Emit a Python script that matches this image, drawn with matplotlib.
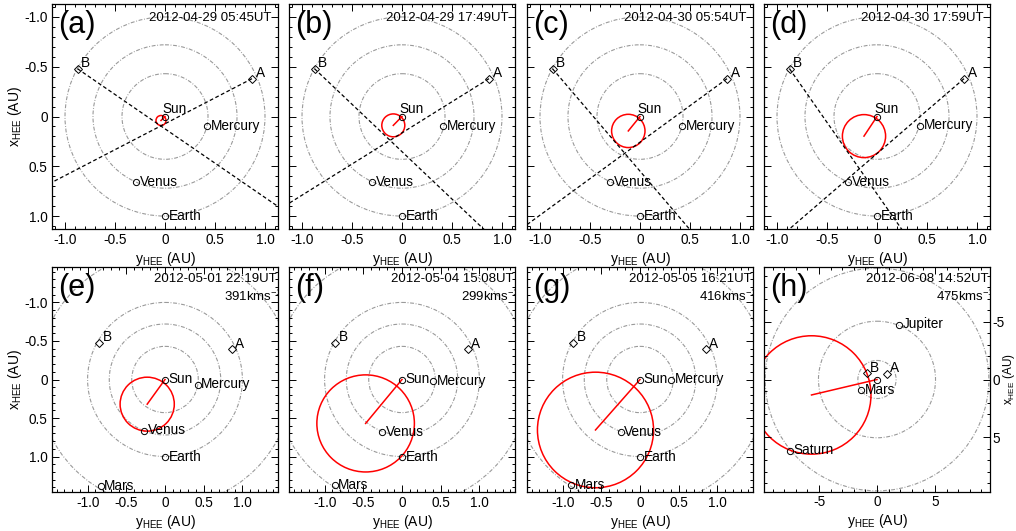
import numpy as np
import matplotlib.pyplot as plt
from matplotlib.patches import Circle
from matplotlib.ticker import MultipleLocator, FuncFormatter

plt.rcParams['font.family'] = ['Liberation Sans', 'DejaVu Sans']
plt.rcParams['mathtext.fontset'] = 'custom'
plt.rcParams['mathtext.rm'] = 'Liberation Sans'
plt.rcParams['mathtext.it'] = 'Liberation Sans'

# ---- data (y_HEE, x_HEE in AU) ----
tags = ['(a)', '(b)', '(c)', '(d)', '(e)', '(f)', '(g)', '(h)']
times = ['2012-04-29 05:45UT', '2012-04-29 17:49UT', '2012-04-30 05:54UT',
         '2012-04-30 17:59UT', '2012-05-01 22:19UT', '2012-05-04 15:08UT',
         '2012-05-05 16:21UT', '2012-06-08 14:52UT']
speeds = [None, None, None, None, '391', '299', '416', '475']
half_range = [1.13, 1.13, 1.13, 1.13, 1.46, 1.46, 1.46, 9.75]

orbits = [[0.43, 0.72, 1.0], [0.43, 0.72, 1.0], [0.43, 0.72, 1.0], [0.43, 0.72, 1.0],
          [0.43, 0.72, 1.0, 1.65], [0.43, 0.72, 1.0, 1.65], [0.43, 0.72, 1.0, 1.65],
          [1.65, 5.05, 9.65]]

mercury_y = [0.42, 0.41, 0.42, 0.43, 0.42, 0.405, 0.40, None]
mercury_x = [0.10, 0.10, 0.10, 0.095, 0.065, 0.025, 0.0, None]
venus_y = [-0.29, -0.30, -0.30, -0.29, -0.27, -0.255, -0.25, None]
venus_x = [0.66, 0.66, 0.66, 0.66, 0.665, 0.685, 0.685, None]
earth_y = [0.0, 0.0, 0.0, 0.0, 0.0, 0.0, 0.0, None]
earth_x = [1.0, 1.0, 1.0, 1.0, 1.01, 1.01, 1.01, None]
mars_y = [None, None, None, None, -0.83, -0.87, -0.89, -1.36]
mars_x = [None, None, None, None, 1.385, 1.375, 1.375, 0.93]
jupiter_y = [None] * 7 + [1.9]
jupiter_x = [None] * 7 + [-4.73]
saturn_y = [None] * 7 + [-7.48]
saturn_x = [None] * 7 + [6.16]

# STEREO A / B
sta_y = [0.87, 0.87, 0.87, 0.87, 0.86, 0.85, 0.85, 0.85]
sta_x = [-0.38, -0.38, -0.38, -0.38, -0.39, -0.39, -0.39, -0.50]
stb_y = [-0.875, -0.875, -0.875, -0.875, -0.85, -0.86, -0.86, -0.90]
stb_x = [-0.48, -0.48, -0.48, -0.48, -0.48, -0.48, -0.48, -0.55]

# points the lines of sight pass through (top row only)
los_a_y = [-1.12, -1.127, -1.127, -0.884]
los_a_x = [0.656, 0.87, 1.084, 1.137]
los_b_y = [1.11, 0.823, 0.50, 0.25]
los_b_x = [0.89, 1.137, 1.137, 1.137]

# CME circle
cme_y = [-0.04, -0.087, -0.117, -0.13, -0.23, -0.47, -0.575, -5.65]
cme_x = [0.04, 0.089, 0.145, 0.197, 0.32, 0.57, 0.655, 1.34]
cme_r = [0.05, 0.115, 0.167, 0.216, 0.35, 0.63, 0.75, 5.13]

planets = [('Mercury', mercury_y, mercury_x), ('Venus', venus_y, venus_x),
           ('Earth', earth_y, earth_x), ('Mars', mars_y, mars_x),
           ('Jupiter', jupiter_y, jupiter_x), ('Saturn', saturn_y, saturn_x)]

W, H = 1016, 531
fig = plt.figure(figsize=(W / 100, H / 100), dpi=100)
cols = [52, 289, 527, 764]
rows = [4, 267]

orbit_style = dict(color='#9a9a9a', lw=0.8, ls=(0, (3.5, 1.5, 0.8, 1.5)))
lab_fs = 9.8


def fmt(v, pos):
    if abs(v) < 1e-9:
        return '0'
    if abs(v) >= 2:
        return '%d' % v
    return '%.1f' % v


for i in range(8):
    r, c = divmod(i, 4)
    ax = fig.add_axes([cols[c] / W, 1 - (rows[r] + 225) / H, 226 / W, 225 / H])
    R = half_range[i]
    ax.set_xlim(-R, R)
    ax.set_ylim(R, -R)

    for rad in orbits[i]:
        ax.add_patch(Circle((0, 0), rad, fill=False, **orbit_style))

    # lines of sight
    if i < 4:
        for sy, sx, ey, ex in [(sta_y[i], sta_x[i], los_a_y[i], los_a_x[i]),
                               (stb_y[i], stb_x[i], los_b_y[i], los_b_x[i])]:
            t = np.array([0, 3.0])
            ax.plot(sy + t * (ey - sy), sx + t * (ex - sx), color='k', lw=0.9,
                    ls=(0, (3, 2)))

    # CME
    ax.add_patch(Circle((cme_y[i], cme_x[i]), cme_r[i], fill=False, ec='red', lw=1.1))
    ax.plot([cme_y[i], 0], [cme_x[i], 0], color='red', lw=1.1)

    # Sun
    ax.plot([0], [0], 'o', ms=4.5, mfc='none', mec='k', mew=0.7)
    if i < 4:
        ax.annotate('Sun', (0, 0), xytext=(-1.5, 2.5), textcoords='offset points',
                    ha='left', va='baseline', fontsize=lab_fs)
    elif i < 7:
        ax.annotate('Sun', (0, 0), xytext=(2.5, -2.5), textcoords='offset points',
                    ha='left', va='baseline', fontsize=lab_fs)

    for name, py, px in planets:
        if py[i] is None:
            continue
        ax.plot([py[i]], [px[i]], 'o', ms=4.5, mfc='none', mec='k', mew=0.7)
        ax.annotate(name, (py[i], px[i]), xytext=(2.5, -2.5), textcoords='offset points',
                    ha='left', va='baseline', fontsize=lab_fs)

    for name, sy, sx in [('A', sta_y, sta_x), ('B', stb_y, stb_x)]:
        ax.plot([sy[i]], [sx[i]], 'D', ms=4, mfc='none', mec='k', mew=0.7)
        ax.annotate(name, (sy[i], sx[i]), xytext=(2.5, -1), textcoords='offset points',
                    ha='left', va='bottom', fontsize=lab_fs)

    ax.text(0.025, 0.975, tags[i], transform=ax.transAxes, ha='left', va='top',
            fontsize=22)
    if speeds[i] is None:
        ax.text(0.972, 0.965, times[i], transform=ax.transAxes, ha='right', va='top',
                fontsize=9.5)
    else:
        ax.text(0.993, 0.972, times[i], transform=ax.transAxes, ha='right', va='top',
                fontsize=9.5)
        ax.text(1.022, 0.905, speeds[i] + 'kms$^{-1}$', transform=ax.transAxes,
                ha='right', va='top', fontsize=9.5, clip_on=True)

    if R < 2:
        major, minor = 0.5, 0.1
    else:
        major, minor = 5, 1
    ax.xaxis.set_major_locator(MultipleLocator(major))
    ax.xaxis.set_minor_locator(MultipleLocator(minor))
    ax.yaxis.set_major_locator(MultipleLocator(major))
    ax.yaxis.set_minor_locator(MultipleLocator(minor))
    ax.xaxis.set_major_formatter(FuncFormatter(fmt))
    ax.yaxis.set_major_formatter(FuncFormatter(fmt))
    ax.tick_params(which='both', direction='in', top=True, right=True,
                   labelsize=9.8, width=0.7, pad=3)
    ax.tick_params(which='major', length=5)
    ax.tick_params(which='minor', length=2.5)
    for s in ax.spines.values():
        s.set_linewidth(0.9)

    ax.set_xlabel('y$_{\\rm HEE}$ (AU)', fontsize=10, labelpad=2)
    if c == 0:
        ax.set_ylabel('x$_{\\rm HEE}$ (AU)', fontsize=10, labelpad=0)
    elif i == 7:
        ax.tick_params(labelleft=False, labelright=True, pad=2)
        ax.yaxis.set_label_position('right')
        ax.set_ylabel('x$_{\\rm HEE}$ (AU)', fontsize=8.5, labelpad=-3, rotation=90)
    else:
        ax.tick_params(labelleft=False)

fig.savefig('out.png', dpi=100)
